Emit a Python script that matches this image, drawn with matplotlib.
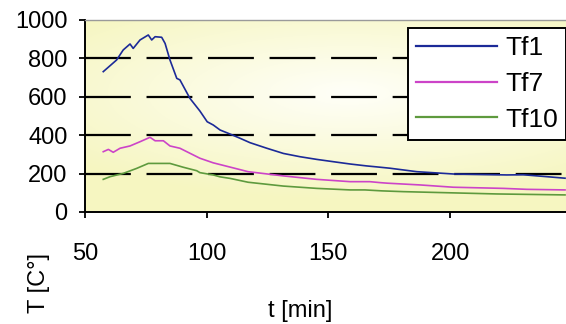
import numpy as np
import matplotlib
matplotlib.use("Agg")
import matplotlib.pyplot as plt

plt.rcParams['font.family'] = ['Liberation Sans', 'DejaVu Sans']
plt.rcParams['lines.scale_dashes'] = False

# ---- data ----
t_tf1 = [57.5, 63.0, 65.7, 68.5, 69.8, 72.6, 76.0, 77.4, 78.8, 81.5, 82.9, 84.9, 87.7, 89.0,
         93.1, 97.2, 100.2, 102.7, 105.5, 109.6, 113.7, 117.8, 124.7, 131.5, 138.3, 145.2,
         152.0, 158.9, 165.7, 169.8, 175.3, 186.3, 201.3, 223.3, 230.0, 239.7, 247.2]
tf1 = [731, 792, 844, 875, 852, 896, 922, 896, 913, 910, 878, 792, 696, 688,
       592, 526, 470, 453, 427, 406, 384, 361, 332, 305, 288, 274,
       262, 250, 240, 235, 228, 210, 198, 193, 194, 184, 176]

t_tf7 = [57.5, 59.6, 61.6, 64.4, 68.5, 72.6, 76.7, 78.8, 82.2, 84.9, 89.0, 93.1, 97.2,
         102.7, 110.5, 117.0, 131.5, 145.2, 158.9, 167.0, 171.2, 174.3, 187.6, 201.3,
         221.9, 231.5, 247.2]
tf7 = [314, 326, 311, 332, 344, 366, 389, 371, 371, 344, 332, 306, 280,
       256, 231, 210, 188, 170, 158, 158, 153, 150, 141, 129,
       123, 118, 115]

t_tf10 = [57.5, 60.3, 65.7, 71.2, 76.0, 84.9, 90.4, 95.9, 97.2, 102.7, 105.5, 109.6, 117.0,
          131.5, 145.2, 158.9, 165.0, 172.0, 180.8, 219.1, 247.2]
tf10 = [170, 184, 201, 227, 253, 253, 233, 215, 205, 193, 183, 175, 155,
        135, 123, 115, 115, 110, 106, 94, 89]

series_names = ['Tf1', 'Tf7', 'Tf10']
series_colors = ['#1c2a98', '#cc44c8', '#5e9a3e']
x_ticks = [50, 100, 150, 200]
y_ticks = [0, 200, 400, 600, 800, 1000]

# ---- figure ----
fig = plt.figure(figsize=(5.66, 3.24), dpi=100)
ax = fig.add_axes([85 / 566, 1 - 212 / 324, 481 / 566, 192 / 324])

# background gradient (pale yellow to near white)
yy, xx = np.mgrid[0:1:200j, 0:1:300j]
r = np.sqrt(((xx - 0.55) / 0.75) ** 2 + ((yy - 0.62) / 0.55) ** 2)
r = np.clip(r, 0, 1)
c0 = np.array([1.0, 1.0, 0.975])
c1 = np.array([0.965, 0.965, 0.76])
img = c0[None, None, :] * (1 - r[..., None]) + c1[None, None, :] * r[..., None]
ax.imshow(img, extent=[0, 1, 0, 1], transform=ax.transAxes, aspect='auto',
          zorder=0, origin='lower')

ax.set_xlim(50, 247.6)
ax.set_ylim(0, 1000)

for yv in [200, 400, 600, 800]:
    ax.axhline(yv, color='black', lw=1.6, linestyle=(0, (33.0, 11.3)), zorder=1)

for tx, ty, name, col in zip([t_tf1, t_tf7, t_tf10], [tf1, tf7, tf10],
                              series_names, series_colors):
    ax.plot(tx, ty, color=col, lw=1.2, label=name, zorder=3)

ax.set_xticks(x_ticks)
ax.set_yticks(y_ticks)
ax.tick_params(axis='y', direction='out', length=4, width=1.3, pad=8.5, labelsize=17)
ax.tick_params(axis='x', direction='out', length=4.5, width=1.3, pad=18, labelsize=17)

for s in ['left', 'bottom']:
    ax.spines[s].set_color('black')
    ax.spines[s].set_linewidth(1.4)
ax.spines['top'].set_color('#9a9a9a')
ax.spines['top'].set_linewidth(1.0)
ax.spines['right'].set_visible(False)

ax.set_xlabel('t [min]', fontsize=17)
ax.xaxis.set_label_coords((300 - 85) / 481, (212 - 300) / 192)
ax.set_ylabel('T [C°]', fontsize=17)
ax.yaxis.set_label_coords((50 - 85) / 481, (212 - 283) / 192)

leg = ax.legend(loc='upper right', bbox_to_anchor=(1.0, (212 - 28) / 192),
                borderaxespad=0, fontsize=19, handlelength=3.1, handletextpad=0.3,
                labelspacing=0.45, borderpad=0.3, fancybox=False, framealpha=1,
                edgecolor='black')
leg.get_frame().set_linewidth(1.4)
for h in leg.get_lines():
    h.set_linewidth(1.6)

fig.savefig('out.png', dpi=100)
